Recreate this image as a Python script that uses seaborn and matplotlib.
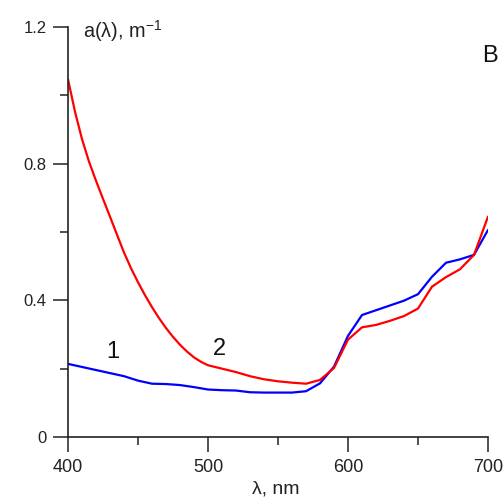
import numpy as np
import pandas as pd
import seaborn as sns
import matplotlib
matplotlib.use("Agg")
import matplotlib.pyplot as plt
from matplotlib.ticker import MultipleLocator

# curve 1 (blue)
wl1 = [400, 410, 420, 430, 440, 450, 460, 470, 480, 490, 500, 510, 520, 530, 540,
       550, 560, 570, 580, 590, 600, 610, 620, 630, 640, 650, 660, 670, 680, 690, 700]
curve1 = [0.214, 0.205, 0.196, 0.187, 0.178, 0.165, 0.156, 0.155, 0.152, 0.146, 0.139,
          0.137, 0.136, 0.131, 0.130, 0.130, 0.130, 0.134, 0.157, 0.206, 0.296, 0.357,
          0.371, 0.385, 0.399, 0.418, 0.469, 0.510, 0.520, 0.533, 0.606]
# curve 2 (red)
wl2 = [400, 405, 410, 415, 420, 425, 430, 435, 440, 445, 450, 455, 460, 465, 470, 475,
       480, 485, 490, 495, 500, 510, 520, 530, 540, 550, 560, 570, 580, 590, 600, 610,
       620, 630, 640, 650, 660, 670, 680, 690, 700]
curve2 = [1.047, 0.952, 0.872, 0.806, 0.750, 0.697, 0.645, 0.592, 0.540, 0.494, 0.453,
          0.415, 0.380, 0.348, 0.319, 0.293, 0.270, 0.250, 0.233, 0.220, 0.210, 0.200,
          0.190, 0.178, 0.169, 0.163, 0.159, 0.156, 0.167, 0.202, 0.285, 0.321, 0.328,
          0.340, 0.354, 0.376, 0.440, 0.468, 0.491, 0.533, 0.645]
series_names = ["1", "2"]
series_colors = ["#0000ff", "#ff0000"]
x_ticks = [400, 500, 600, 700]
y_ticks = [0, 0.4, 0.8, 1.2]
y_tick_labels = ["0", "0.4", "0.8", "1.2"]

df = pd.DataFrame({
    "wl": wl1 + wl2,
    "a": curve1 + curve2,
    "curve": [series_names[0]] * len(wl1) + [series_names[1]] * len(wl2),
})

sns.set_theme(style="white")
plt.rcParams["font.family"] = ["Liberation Sans", "DejaVu Sans"]
plt.rcParams["mathtext.fontset"] = "custom"
plt.rcParams["mathtext.rm"] = "Liberation Sans"

fig = plt.figure(figsize=(5.04, 5.01), dpi=100)
ax = fig.add_axes([68 / 504, 1 - 437 / 501, 420 / 504, 410 / 501])

sns.lineplot(data=df, x="wl", y="a", hue="curve", palette=series_colors,
             linewidth=1.6, legend=False, ax=ax, sort=False)

ax.set_xlim(400, 700)
ax.set_ylim(0, 1.2)
ax.set_xticks(x_ticks)
ax.set_yticks(y_ticks)
ax.set_yticklabels(y_tick_labels)
ax.xaxis.set_minor_locator(MultipleLocator(50))
ax.yaxis.set_minor_locator(MultipleLocator(0.2))

for s in ["top", "right"]:
    ax.spines[s].set_visible(False)
for s in ["left", "bottom"]:
    ax.spines[s].set_color("#222222")
    ax.spines[s].set_linewidth(1.2)

ax.tick_params(axis="both", which="major", direction="out", length=10.5, width=1.2,
               color="#333333", labelcolor="#222222", bottom=True, left=True)
ax.tick_params(axis="x", which="major", pad=5, labelsize=13)
ax.tick_params(axis="y", which="major", pad=5, labelsize=12)
ax.tick_params(axis="both", which="minor", direction="out", length=5.5, width=1.2,
               color="#333333", bottom=True, left=True)

ax.set_xlabel("λ, nm", fontsize=14, color="#222222")
ax.xaxis.set_label_coords((276 - 68) / 420, (437 - 481) / 410)
ax.set_ylabel("")

ax.text(0.036, 0.99, r"a(λ), m$^{\mathregular{-1}}$", transform=ax.transAxes,
        fontsize=14.3, ha="left", va="center", color="#222222")
ax.text(0.986, 0.929, "B", transform=ax.transAxes, fontsize=17, ha="left",
        va="center", color="#111111", clip_on=False)
ax.text(432, 0.255, series_names[0], fontsize=17, ha="center", va="center_baseline", color="#111111")
ax.text(508, 0.266, series_names[1], fontsize=17, ha="center", va="center_baseline", color="#111111")

fig.savefig("out.png", dpi=100)
